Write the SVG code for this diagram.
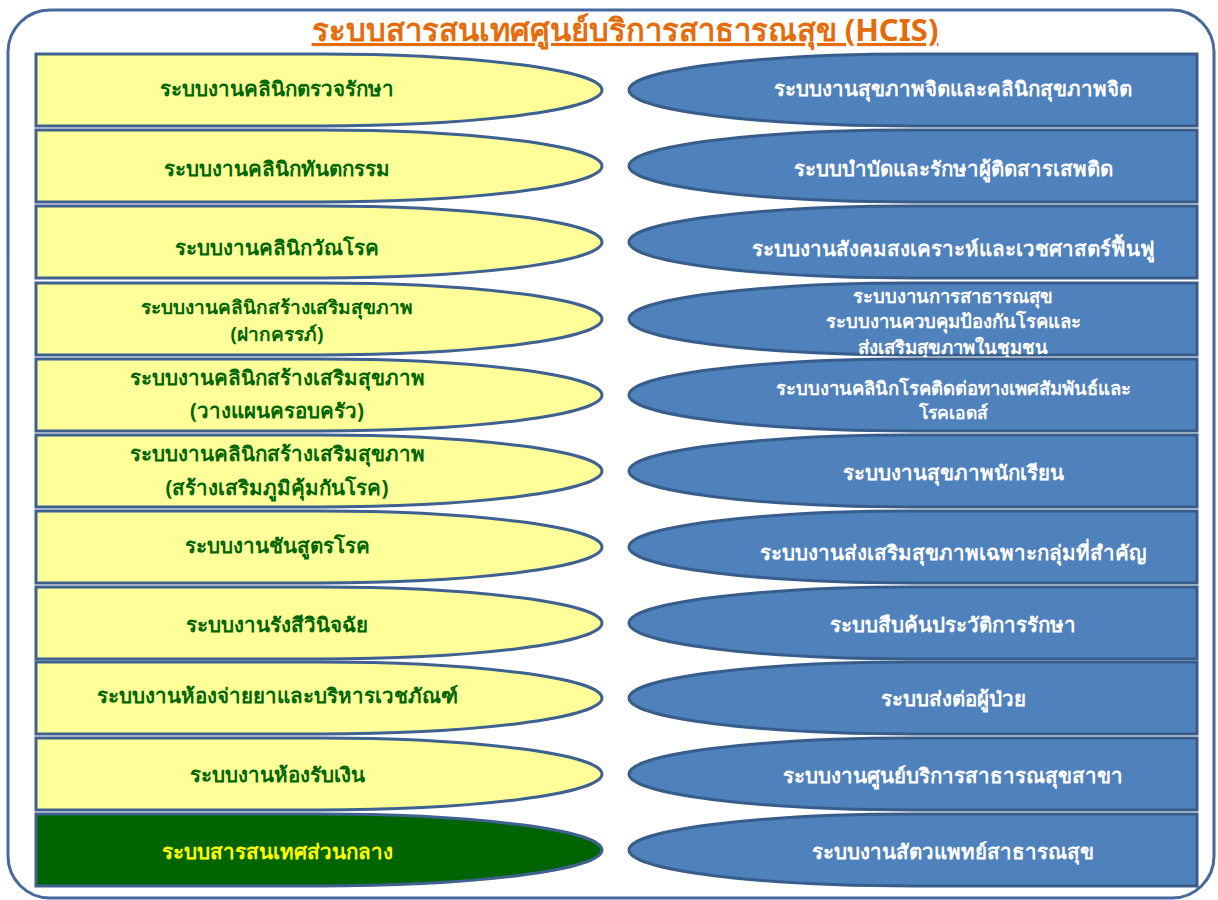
<svg xmlns="http://www.w3.org/2000/svg" width="1218" height="900" viewBox="0 0 1218 900">
<defs>
<style>
.frame{fill:#ffffff;stroke:#45699a;stroke-width:3}
.ly{fill:#ffff99;stroke:#3f6190;stroke-width:3}
.lg{fill:#006400;stroke:#3f6190;stroke-width:3}
.rb{fill:#4f81bd;stroke:#385d8a;stroke-width:3}
text{font-family:"Noto Sans","DejaVu Sans",sans-serif;font-weight:bold;text-anchor:middle;dominant-baseline:central}
.tl{font-size:20.5px;fill:#006600}
.ty{font-size:20.5px;fill:#ffff00}
.tr{font-size:20.5px;fill:#ffffff}
.m19{font-size:19px}
.m185{font-size:18.5px}
.m175{font-size:17.5px}
.title{font-size:31px;fill:#e46c0a;text-decoration:underline;dominant-baseline:auto}
</style>
</defs>
<rect class="frame" x="8" y="10" width="1206" height="888" rx="42" ry="42"/>
<text class="title" x="625" y="41">ระบบสารสนเทศศูนย์บริการสาธารณสุข (HCIS)</text>

<g id="left1"><path class="ly" d="M36,54 H319 A283,36 0 0 1 319,126 H36 Z"/><text class="tl" x="277" y="88">ระบบงานคลินิกตรวจรักษา</text></g>
<g id="left2"><path class="ly" d="M36,130 H319 A283,36 0 0 1 319,202 H36 Z"/><text class="tl" x="277" y="168">ระบบงานคลินิกทันตกรรม</text></g>
<g id="left3"><path class="ly" d="M36,206 H319 A283,36 0 0 1 319,278 H36 Z"/><text class="tl" x="277" y="247">ระบบงานคลินิกวัณโรค</text></g>
<g id="left4"><path class="ly" d="M36,283 H319 A283,36 0 0 1 319,355 H36 Z"/><text class="tl m19" x="277" y="307">ระบบงานคลินิกสร้างเสริมสุขภาพ</text><text class="tl m19" x="277" y="334">(ฝากครรภ์)</text></g>
<g id="left5"><path class="ly" d="M36,359 H319 A283,36 0 0 1 319,431 H36 Z"/><text class="tl" x="277" y="377">ระบบงานคลินิกสร้างเสริมสุขภาพ</text><text class="tl" x="277" y="410">(วางแผนครอบครัว)</text></g>
<g id="left6"><path class="ly" d="M36,435 H319 A283,36 0 0 1 319,507 H36 Z"/><text class="tl" x="277" y="453">ระบบงานคลินิกสร้างเสริมสุขภาพ</text><text class="tl" x="277" y="487">(สร้างเสริมภูมิคุ้มกันโรค)</text></g>
<g id="left7"><path class="ly" d="M36,511 H319 A283,36 0 0 1 319,583 H36 Z"/><text class="tl" x="277" y="545">ระบบงานชันสูตรโรค</text></g>
<g id="left8"><path class="ly" d="M36,587 H319 A283,36 0 0 1 319,659 H36 Z"/><text class="tl" x="277" y="624">ระบบงานรังสีวินิจฉัย</text></g>
<g id="left9"><path class="ly" d="M36,662 H319 A283,36 0 0 1 319,734 H36 Z"/><text class="tl" x="277" y="695">ระบบงานห้องจ่ายยาและบริหารเวชภัณฑ์</text></g>
<g id="left10"><path class="ly" d="M36,738 H319 A283,36 0 0 1 319,810 H36 Z"/><text class="tl" x="277" y="774">ระบบงานห้องรับเงิน</text></g>
<g id="left11"><path class="lg" d="M36,814 H319 A283,36 0 0 1 319,886 H36 Z"/><text class="ty" x="277" y="851">ระบบสารสนเทศส่วนกลาง</text></g>

<g id="right1"><path class="rb" d="M1197,54 H913 A284,36 0 0 0 913,126 H1197 Z"/><text class="tr" x="953" y="88">ระบบงานสุขภาพจิตและคลินิกสุขภาพจิต</text></g>
<g id="right2"><path class="rb" d="M1197,130 H913 A284,36 0 0 0 913,202 H1197 Z"/><text class="tr" x="953" y="168">ระบบบำบัดและรักษาผู้ติดสารเสพติด</text></g>
<g id="right3"><path class="rb" d="M1197,206 H913 A284,36 0 0 0 913,278 H1197 Z"/><text class="tr" x="953" y="248">ระบบงานสังคมสงเคราะห์และเวชศาสตร์ฟื้นฟู</text></g>
<g id="right4"><path class="rb" d="M1197,283 H913 A284,36 0 0 0 913,355 H1197 Z"/><text class="tr m185" x="953" y="295">ระบบงานการสาธารณสุข</text><text class="tr m185" x="953" y="320.5">ระบบงานควบคุมป้องกันโรคและ</text><text class="tr m185" x="953" y="346">ส่งเสริมสุขภาพในชุมชน</text></g>
<g id="right5"><path class="rb" d="M1197,359 H913 A284,36 0 0 0 913,431 H1197 Z"/><text class="tr m185" x="953" y="387">ระบบงานคลินิกโรคติดต่อทางเพศสัมพันธ์และ</text><text class="tr m175" x="953" y="412">โรคเอดส์</text></g>
<g id="right6"><path class="rb" d="M1197,435 H913 A284,36 0 0 0 913,507 H1197 Z"/><text class="tr" x="953" y="472">ระบบงานสุขภาพนักเรียน</text></g>
<g id="right7"><path class="rb" d="M1197,511 H913 A284,36 0 0 0 913,583 H1197 Z"/><text class="tr" x="953" y="552">ระบบงานส่งเสริมสุขภาพเฉพาะกลุ่มที่สำคัญ</text></g>
<g id="right8"><path class="rb" d="M1197,587 H913 A284,36 0 0 0 913,659 H1197 Z"/><text class="tr" x="953" y="624">ระบบสืบค้นประวัติการรักษา</text></g>
<g id="right9"><path class="rb" d="M1197,662 H913 A284,36 0 0 0 913,734 H1197 Z"/><text class="tr" x="953" y="698">ระบบส่งต่อผู้ป่วย</text></g>
<g id="right10"><path class="rb" d="M1197,738 H913 A284,36 0 0 0 913,810 H1197 Z"/><text class="tr" x="953" y="775">ระบบงานศูนย์บริการสาธารณสุขสาขา</text></g>
<g id="right11"><path class="rb" d="M1197,814 H913 A284,36 0 0 0 913,886 H1197 Z"/><text class="tr" x="953" y="851">ระบบงานสัตวแพทย์สาธารณสุข</text></g>
<g id="connectors"></g>
</svg>
